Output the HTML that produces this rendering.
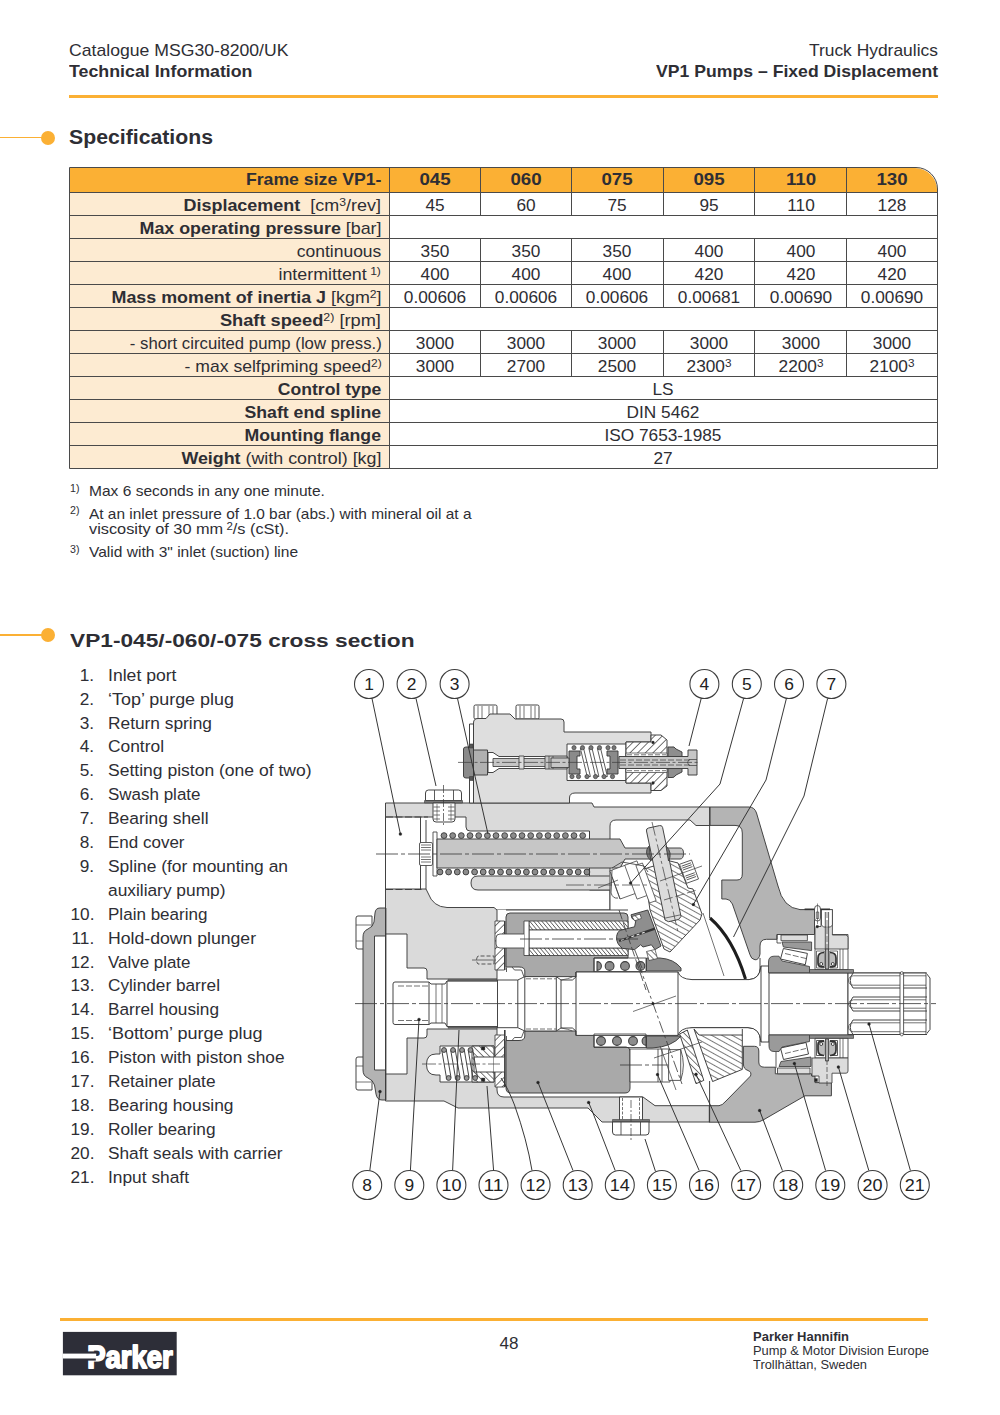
<!DOCTYPE html>
<html lang="en"><head><meta charset="utf-8"><title>VP1 Pumps – Fixed Displacement</title>
<style>
html,body{margin:0;padding:0;background:#fff;}
body{width:1000px;height:1415px;position:relative;overflow:hidden;font-family:"Liberation Sans",sans-serif;color:#2e2e34;}
.t{position:absolute;white-space:nowrap;}
.r{position:absolute;}
b{font-weight:bold;}
sup{font-size:68%;line-height:0;vertical-align:baseline;position:relative;top:-0.42em;}
sup.f{font-size:70%;top:-0.45em;}
svg{position:absolute;overflow:visible;}
</style></head><body>
<div class="t" id="t1" style="top:41.79px;font-size:16.2px;line-height:16.2px;left:69px;transform:scaleX(1.0890);transform-origin:0 0;"><span>Catalogue MSG30-8200/UK</span></div>
<div class="t" id="t2" style="top:62.79px;font-size:16.2px;line-height:16.2px;left:69px;font-weight:bold;transform:scaleX(1.0988);transform-origin:0 0;"><span>Technical Information</span></div>
<div class="t" id="t3" style="top:41.79px;font-size:16.2px;line-height:16.2px;right:62px;transform:scaleX(1.0756);transform-origin:100% 0;"><span>Truck Hydraulics</span></div>
<div class="t" id="t4" style="top:62.79px;font-size:16.2px;line-height:16.2px;right:61.5px;font-weight:bold;transform:scaleX(1.0883);transform-origin:100% 0;"><span>VP1 Pumps – Fixed Displacement</span></div>
<div class="r" style="left:69px;top:94.6px;width:869px;height:3.4px;background:#FBB034;"></div>
<div class="r" style="left:0px;top:136.6px;width:45px;height:1.7px;background:#FBB034;"></div>
<div class="r" style="left:40.7px;top:130.6px;width:14px;height:14px;border-radius:50%;background:#FBB034"></div>
<div class="t" id="t5" style="top:127.42px;font-size:20.3px;line-height:20.3px;left:69.2px;font-weight:bold;transform:scaleX(1.0472);transform-origin:0 0;"><span>Specifications</span></div>
<div class="r" style="left:69px;top:167.5px;width:867.9px;height:25px;background:#FBB034;border-top-right-radius:22px;"></div>
<div class="r" style="left:69px;top:192.5px;width:320.3px;height:276px;background:#FDEBD2;"></div>
<div class="r" style="left:68.5px;top:167.0px;width:867.4px;height:300px;border:1px solid #4a4a4a;border-top-right-radius:22px;box-sizing:content-box;"></div>
<div class="r" style="left:69px;top:192.0px;width:867.9px;height:1px;background:#4a4a4a;"></div>
<div class="r" style="left:69px;top:215.0px;width:867.9px;height:1px;background:#4a4a4a;"></div>
<div class="r" style="left:69px;top:238.0px;width:867.9px;height:1px;background:#4a4a4a;"></div>
<div class="r" style="left:69px;top:261.0px;width:867.9px;height:1px;background:#4a4a4a;"></div>
<div class="r" style="left:69px;top:284.0px;width:867.9px;height:1px;background:#4a4a4a;"></div>
<div class="r" style="left:69px;top:307.0px;width:867.9px;height:1px;background:#4a4a4a;"></div>
<div class="r" style="left:69px;top:330.0px;width:867.9px;height:1px;background:#4a4a4a;"></div>
<div class="r" style="left:69px;top:353.0px;width:867.9px;height:1px;background:#4a4a4a;"></div>
<div class="r" style="left:69px;top:376.0px;width:867.9px;height:1px;background:#4a4a4a;"></div>
<div class="r" style="left:69px;top:399.0px;width:867.9px;height:1px;background:#4a4a4a;"></div>
<div class="r" style="left:69px;top:422.0px;width:867.9px;height:1px;background:#4a4a4a;"></div>
<div class="r" style="left:69px;top:445.0px;width:867.9px;height:1px;background:#4a4a4a;"></div>
<div class="r" style="left:388.8px;top:167.5px;width:1px;height:301px;background:#4a4a4a;"></div>
<div class="r" style="left:480.0px;top:167.5px;width:1px;height:25.0px;background:#4a4a4a;"></div>
<div class="r" style="left:571.3px;top:167.5px;width:1px;height:25.0px;background:#4a4a4a;"></div>
<div class="r" style="left:662.6px;top:167.5px;width:1px;height:25.0px;background:#4a4a4a;"></div>
<div class="r" style="left:754.4px;top:167.5px;width:1px;height:25.0px;background:#4a4a4a;"></div>
<div class="r" style="left:846.0px;top:167.5px;width:1px;height:25.0px;background:#4a4a4a;"></div>
<div class="r" style="left:480.0px;top:192.5px;width:1px;height:23.0px;background:#4a4a4a;"></div>
<div class="r" style="left:571.3px;top:192.5px;width:1px;height:23.0px;background:#4a4a4a;"></div>
<div class="r" style="left:662.6px;top:192.5px;width:1px;height:23.0px;background:#4a4a4a;"></div>
<div class="r" style="left:754.4px;top:192.5px;width:1px;height:23.0px;background:#4a4a4a;"></div>
<div class="r" style="left:846.0px;top:192.5px;width:1px;height:23.0px;background:#4a4a4a;"></div>
<div class="r" style="left:480.0px;top:238.5px;width:1px;height:23.0px;background:#4a4a4a;"></div>
<div class="r" style="left:571.3px;top:238.5px;width:1px;height:23.0px;background:#4a4a4a;"></div>
<div class="r" style="left:662.6px;top:238.5px;width:1px;height:23.0px;background:#4a4a4a;"></div>
<div class="r" style="left:754.4px;top:238.5px;width:1px;height:23.0px;background:#4a4a4a;"></div>
<div class="r" style="left:846.0px;top:238.5px;width:1px;height:23.0px;background:#4a4a4a;"></div>
<div class="r" style="left:480.0px;top:261.5px;width:1px;height:23.0px;background:#4a4a4a;"></div>
<div class="r" style="left:571.3px;top:261.5px;width:1px;height:23.0px;background:#4a4a4a;"></div>
<div class="r" style="left:662.6px;top:261.5px;width:1px;height:23.0px;background:#4a4a4a;"></div>
<div class="r" style="left:754.4px;top:261.5px;width:1px;height:23.0px;background:#4a4a4a;"></div>
<div class="r" style="left:846.0px;top:261.5px;width:1px;height:23.0px;background:#4a4a4a;"></div>
<div class="r" style="left:480.0px;top:284.5px;width:1px;height:23.0px;background:#4a4a4a;"></div>
<div class="r" style="left:571.3px;top:284.5px;width:1px;height:23.0px;background:#4a4a4a;"></div>
<div class="r" style="left:662.6px;top:284.5px;width:1px;height:23.0px;background:#4a4a4a;"></div>
<div class="r" style="left:754.4px;top:284.5px;width:1px;height:23.0px;background:#4a4a4a;"></div>
<div class="r" style="left:846.0px;top:284.5px;width:1px;height:23.0px;background:#4a4a4a;"></div>
<div class="r" style="left:480.0px;top:330.5px;width:1px;height:23.0px;background:#4a4a4a;"></div>
<div class="r" style="left:571.3px;top:330.5px;width:1px;height:23.0px;background:#4a4a4a;"></div>
<div class="r" style="left:662.6px;top:330.5px;width:1px;height:23.0px;background:#4a4a4a;"></div>
<div class="r" style="left:754.4px;top:330.5px;width:1px;height:23.0px;background:#4a4a4a;"></div>
<div class="r" style="left:846.0px;top:330.5px;width:1px;height:23.0px;background:#4a4a4a;"></div>
<div class="r" style="left:480.0px;top:353.5px;width:1px;height:23.0px;background:#4a4a4a;"></div>
<div class="r" style="left:571.3px;top:353.5px;width:1px;height:23.0px;background:#4a4a4a;"></div>
<div class="r" style="left:662.6px;top:353.5px;width:1px;height:23.0px;background:#4a4a4a;"></div>
<div class="r" style="left:754.4px;top:353.5px;width:1px;height:23.0px;background:#4a4a4a;"></div>
<div class="r" style="left:846.0px;top:353.5px;width:1px;height:23.0px;background:#4a4a4a;"></div>
<div class="t" id="t6" style="top:171.21px;font-size:17px;line-height:17px;right:618.7px;transform:scaleX(1.0391);transform-origin:100% 0;"><span><b>Frame size VP1-</b></span></div>
<div class="t" id="t7" style="top:171.21px;font-size:17px;line-height:17px;left:234.89999999999998px;width:400px;text-align:center;font-weight:bold;transform:scaleX(1.1000);transform-origin:50% 0;"><span>045</span></div>
<div class="t" id="t8" style="top:171.21px;font-size:17px;line-height:17px;left:326.15px;width:400px;text-align:center;font-weight:bold;transform:scaleX(1.1000);transform-origin:50% 0;"><span>060</span></div>
<div class="t" id="t9" style="top:171.21px;font-size:17px;line-height:17px;left:417.45000000000005px;width:400px;text-align:center;font-weight:bold;transform:scaleX(1.1000);transform-origin:50% 0;"><span>075</span></div>
<div class="t" id="t10" style="top:171.21px;font-size:17px;line-height:17px;left:509.0px;width:400px;text-align:center;font-weight:bold;transform:scaleX(1.1000);transform-origin:50% 0;"><span>095</span></div>
<div class="t" id="t11" style="top:171.21px;font-size:17px;line-height:17px;left:600.7px;width:400px;text-align:center;font-weight:bold;transform:scaleX(1.1000);transform-origin:50% 0;"><span>110</span></div>
<div class="t" id="t12" style="top:171.21px;font-size:17px;line-height:17px;left:691.7px;width:400px;text-align:center;font-weight:bold;transform:scaleX(1.1000);transform-origin:50% 0;"><span>130</span></div>
<div class="t" id="t13" style="top:196.59px;font-size:16.2px;line-height:16.2px;right:618.7px;transform:scaleX(1.1098);transform-origin:100% 0;"><span><b>Displacement</b>&nbsp; [cm<sup>3</sup>/rev]</span></div>
<div class="t" id="t14" style="top:196.59px;font-size:16.2px;line-height:16.2px;left:234.89999999999998px;width:400px;text-align:center;transform:scaleX(1.0650);transform-origin:50% 0;"><span>45</span></div>
<div class="t" id="t15" style="top:196.59px;font-size:16.2px;line-height:16.2px;left:326.15px;width:400px;text-align:center;transform:scaleX(1.0650);transform-origin:50% 0;"><span>60</span></div>
<div class="t" id="t16" style="top:196.59px;font-size:16.2px;line-height:16.2px;left:417.45000000000005px;width:400px;text-align:center;transform:scaleX(1.0650);transform-origin:50% 0;"><span>75</span></div>
<div class="t" id="t17" style="top:196.59px;font-size:16.2px;line-height:16.2px;left:509.0px;width:400px;text-align:center;transform:scaleX(1.0650);transform-origin:50% 0;"><span>95</span></div>
<div class="t" id="t18" style="top:196.59px;font-size:16.2px;line-height:16.2px;left:600.7px;width:400px;text-align:center;transform:scaleX(1.0650);transform-origin:50% 0;"><span>110</span></div>
<div class="t" id="t19" style="top:196.59px;font-size:16.2px;line-height:16.2px;left:691.7px;width:400px;text-align:center;transform:scaleX(1.0650);transform-origin:50% 0;"><span>128</span></div>
<div class="t" id="t20" style="top:219.59px;font-size:16.2px;line-height:16.2px;right:618.7px;transform:scaleX(1.1024);transform-origin:100% 0;"><span><b>Max operating pressure</b> [bar]</span></div>
<div class="t" id="t21" style="top:242.59px;font-size:16.2px;line-height:16.2px;right:618.7px;transform:scaleX(1.0790);transform-origin:100% 0;"><span>continuous</span></div>
<div class="t" id="t22" style="top:242.59px;font-size:16.2px;line-height:16.2px;left:234.89999999999998px;width:400px;text-align:center;transform:scaleX(1.0650);transform-origin:50% 0;"><span>350</span></div>
<div class="t" id="t23" style="top:242.59px;font-size:16.2px;line-height:16.2px;left:326.15px;width:400px;text-align:center;transform:scaleX(1.0650);transform-origin:50% 0;"><span>350</span></div>
<div class="t" id="t24" style="top:242.59px;font-size:16.2px;line-height:16.2px;left:417.45000000000005px;width:400px;text-align:center;transform:scaleX(1.0650);transform-origin:50% 0;"><span>350</span></div>
<div class="t" id="t25" style="top:242.59px;font-size:16.2px;line-height:16.2px;left:509.0px;width:400px;text-align:center;transform:scaleX(1.0650);transform-origin:50% 0;"><span>400</span></div>
<div class="t" id="t26" style="top:242.59px;font-size:16.2px;line-height:16.2px;left:600.7px;width:400px;text-align:center;transform:scaleX(1.0650);transform-origin:50% 0;"><span>400</span></div>
<div class="t" id="t27" style="top:242.59px;font-size:16.2px;line-height:16.2px;left:691.7px;width:400px;text-align:center;transform:scaleX(1.0650);transform-origin:50% 0;"><span>400</span></div>
<div class="t" id="t28" style="top:265.59px;font-size:16.2px;line-height:16.2px;right:618.7px;transform:scaleX(1.1031);transform-origin:100% 0;"><span>intermittent<sup class="s2"> 1)</sup></span></div>
<div class="t" id="t29" style="top:265.59px;font-size:16.2px;line-height:16.2px;left:234.89999999999998px;width:400px;text-align:center;transform:scaleX(1.0650);transform-origin:50% 0;"><span>400</span></div>
<div class="t" id="t30" style="top:265.59px;font-size:16.2px;line-height:16.2px;left:326.15px;width:400px;text-align:center;transform:scaleX(1.0650);transform-origin:50% 0;"><span>400</span></div>
<div class="t" id="t31" style="top:265.59px;font-size:16.2px;line-height:16.2px;left:417.45000000000005px;width:400px;text-align:center;transform:scaleX(1.0650);transform-origin:50% 0;"><span>400</span></div>
<div class="t" id="t32" style="top:265.59px;font-size:16.2px;line-height:16.2px;left:509.0px;width:400px;text-align:center;transform:scaleX(1.0650);transform-origin:50% 0;"><span>420</span></div>
<div class="t" id="t33" style="top:265.59px;font-size:16.2px;line-height:16.2px;left:600.7px;width:400px;text-align:center;transform:scaleX(1.0650);transform-origin:50% 0;"><span>420</span></div>
<div class="t" id="t34" style="top:265.59px;font-size:16.2px;line-height:16.2px;left:691.7px;width:400px;text-align:center;transform:scaleX(1.0650);transform-origin:50% 0;"><span>420</span></div>
<div class="t" id="t35" style="top:288.59px;font-size:16.2px;line-height:16.2px;right:618.7px;transform:scaleX(1.1042);transform-origin:100% 0;"><span><b>Mass moment of inertia J</b> [kgm<sup>2</sup>]</span></div>
<div class="t" id="t36" style="top:288.59px;font-size:16.2px;line-height:16.2px;left:234.89999999999998px;width:400px;text-align:center;transform:scaleX(1.0650);transform-origin:50% 0;"><span>0.00606</span></div>
<div class="t" id="t37" style="top:288.59px;font-size:16.2px;line-height:16.2px;left:326.15px;width:400px;text-align:center;transform:scaleX(1.0650);transform-origin:50% 0;"><span>0.00606</span></div>
<div class="t" id="t38" style="top:288.59px;font-size:16.2px;line-height:16.2px;left:417.45000000000005px;width:400px;text-align:center;transform:scaleX(1.0650);transform-origin:50% 0;"><span>0.00606</span></div>
<div class="t" id="t39" style="top:288.59px;font-size:16.2px;line-height:16.2px;left:509.0px;width:400px;text-align:center;transform:scaleX(1.0650);transform-origin:50% 0;"><span>0.00681</span></div>
<div class="t" id="t40" style="top:288.59px;font-size:16.2px;line-height:16.2px;left:600.7px;width:400px;text-align:center;transform:scaleX(1.0650);transform-origin:50% 0;"><span>0.00690</span></div>
<div class="t" id="t41" style="top:288.59px;font-size:16.2px;line-height:16.2px;left:691.7px;width:400px;text-align:center;transform:scaleX(1.0650);transform-origin:50% 0;"><span>0.00690</span></div>
<div class="t" id="t42" style="top:311.59px;font-size:16.2px;line-height:16.2px;right:618.7px;transform:scaleX(1.1265);transform-origin:100% 0;"><span><b>Shaft speed</b><sup>2)</sup> [rpm]</span></div>
<div class="t" id="t43" style="top:334.59px;font-size:16.2px;line-height:16.2px;right:618.7px;transform:scaleX(1.0336);transform-origin:100% 0;"><span>- short circuited pump (low press.)</span></div>
<div class="t" id="t44" style="top:334.59px;font-size:16.2px;line-height:16.2px;left:234.89999999999998px;width:400px;text-align:center;transform:scaleX(1.0650);transform-origin:50% 0;"><span>3000</span></div>
<div class="t" id="t45" style="top:334.59px;font-size:16.2px;line-height:16.2px;left:326.15px;width:400px;text-align:center;transform:scaleX(1.0650);transform-origin:50% 0;"><span>3000</span></div>
<div class="t" id="t46" style="top:334.59px;font-size:16.2px;line-height:16.2px;left:417.45000000000005px;width:400px;text-align:center;transform:scaleX(1.0650);transform-origin:50% 0;"><span>3000</span></div>
<div class="t" id="t47" style="top:334.59px;font-size:16.2px;line-height:16.2px;left:509.0px;width:400px;text-align:center;transform:scaleX(1.0650);transform-origin:50% 0;"><span>3000</span></div>
<div class="t" id="t48" style="top:334.59px;font-size:16.2px;line-height:16.2px;left:600.7px;width:400px;text-align:center;transform:scaleX(1.0650);transform-origin:50% 0;"><span>3000</span></div>
<div class="t" id="t49" style="top:334.59px;font-size:16.2px;line-height:16.2px;left:691.7px;width:400px;text-align:center;transform:scaleX(1.0650);transform-origin:50% 0;"><span>3000</span></div>
<div class="t" id="t50" style="top:357.59px;font-size:16.2px;line-height:16.2px;right:618.7px;transform:scaleX(1.0847);transform-origin:100% 0;"><span>- max selfpriming speed<sup>2)</sup></span></div>
<div class="t" id="t51" style="top:357.59px;font-size:16.2px;line-height:16.2px;left:234.89999999999998px;width:400px;text-align:center;transform:scaleX(1.0650);transform-origin:50% 0;"><span>3000</span></div>
<div class="t" id="t52" style="top:357.59px;font-size:16.2px;line-height:16.2px;left:326.15px;width:400px;text-align:center;transform:scaleX(1.0650);transform-origin:50% 0;"><span>2700</span></div>
<div class="t" id="t53" style="top:357.59px;font-size:16.2px;line-height:16.2px;left:417.45000000000005px;width:400px;text-align:center;transform:scaleX(1.0650);transform-origin:50% 0;"><span>2500</span></div>
<div class="t" id="t54" style="top:357.59px;font-size:16.2px;line-height:16.2px;left:509.0px;width:400px;text-align:center;transform:scaleX(1.0650);transform-origin:50% 0;"><span>2300<sup>3</sup></span></div>
<div class="t" id="t55" style="top:357.59px;font-size:16.2px;line-height:16.2px;left:600.7px;width:400px;text-align:center;transform:scaleX(1.0650);transform-origin:50% 0;"><span>2200<sup>3</sup></span></div>
<div class="t" id="t56" style="top:357.59px;font-size:16.2px;line-height:16.2px;left:691.7px;width:400px;text-align:center;transform:scaleX(1.0650);transform-origin:50% 0;"><span>2100<sup>3</sup></span></div>
<div class="t" id="t57" style="top:380.59px;font-size:16.2px;line-height:16.2px;right:618.7px;transform:scaleX(1.0857);transform-origin:100% 0;"><span><b>Control type</b></span></div>
<div class="t" id="t58" style="top:380.59px;font-size:16.2px;line-height:16.2px;left:463.1px;width:400px;text-align:center;transform:scaleX(1.0650);transform-origin:50% 0;"><span>LS</span></div>
<div class="t" id="t59" style="top:403.59px;font-size:16.2px;line-height:16.2px;right:618.7px;transform:scaleX(1.0917);transform-origin:100% 0;"><span><b>Shaft end spline</b></span></div>
<div class="t" id="t60" style="top:403.59px;font-size:16.2px;line-height:16.2px;left:463.1px;width:400px;text-align:center;transform:scaleX(1.0650);transform-origin:50% 0;"><span>DIN 5462</span></div>
<div class="t" id="t61" style="top:426.59px;font-size:16.2px;line-height:16.2px;right:618.7px;transform:scaleX(1.0921);transform-origin:100% 0;"><span><b>Mounting flange</b></span></div>
<div class="t" id="t62" style="top:426.59px;font-size:16.2px;line-height:16.2px;left:463.1px;width:400px;text-align:center;transform:scaleX(1.0650);transform-origin:50% 0;"><span>ISO 7653-1985</span></div>
<div class="t" id="t63" style="top:449.59px;font-size:16.2px;line-height:16.2px;right:618.7px;transform:scaleX(1.1025);transform-origin:100% 0;"><span><b>Weight</b> (with control) [kg]</span></div>
<div class="t" id="t64" style="top:449.59px;font-size:16.2px;line-height:16.2px;left:463.1px;width:400px;text-align:center;transform:scaleX(1.0650);transform-origin:50% 0;"><span>27</span></div>
<div class="t" id="t65" style="top:483.54px;font-size:10px;line-height:10px;left:70px;transform:scaleX(1.0650);transform-origin:0 0;"><span>1)</span></div>
<div class="t" id="t66" style="top:484.14px;font-size:14.6px;line-height:14.6px;left:89px;transform:scaleX(1.0650);transform-origin:0 0;"><span>Max 6 seconds in any one minute.</span></div>
<div class="t" id="t67" style="top:506.04px;font-size:10px;line-height:10px;left:70px;transform:scaleX(1.0650);transform-origin:0 0;"><span>2)</span></div>
<div class="t" id="t68" style="top:506.64px;font-size:14.6px;line-height:14.6px;left:89px;transform:scaleX(1.0573);transform-origin:0 0;"><span>At an inlet pressure of 1.0 bar (abs.) with mineral oil at a</span></div>
<div class="t" id="t69" style="top:522.14px;font-size:14.6px;line-height:14.6px;left:89px;transform:scaleX(1.1183);transform-origin:0 0;"><span>viscosity of 30 mm<sup class="f"> 2</sup>/s (cSt).</span></div>
<div class="t" id="t70" style="top:544.53px;font-size:10px;line-height:10px;left:70px;transform:scaleX(1.0650);transform-origin:0 0;"><span>3)</span></div>
<div class="t" id="t71" style="top:545.14px;font-size:14.6px;line-height:14.6px;left:89px;transform:scaleX(1.0650);transform-origin:0 0;"><span>Valid with 3" inlet (suction) line</span></div>
<div class="r" style="left:0px;top:634.3px;width:45px;height:1.7px;background:#FBB034;"></div>
<div class="r" style="left:40.7px;top:628.2px;width:14px;height:14px;border-radius:50%;background:#FBB034"></div>
<div class="t" id="t72" style="top:633.23px;font-size:17.8px;line-height:17.8px;left:69.5px;font-weight:bold;transform:scaleX(1.2767);transform-origin:0 0;"><span>VP1-045/-060/-075 cross section</span></div>
<div class="t" id="t73" style="top:667.79px;font-size:16.9px;line-height:16.9px;right:905.8px;transform:scaleX(1.0200);transform-origin:100% 0;"><span>1.</span></div>
<div class="t" id="t74" style="top:667.79px;font-size:16.9px;line-height:16.9px;left:108.3px;transform:scaleX(1.0421);transform-origin:0 0;"><span>Inlet port</span></div>
<div class="t" id="t75" style="top:691.69px;font-size:16.9px;line-height:16.9px;right:905.8px;transform:scaleX(1.0200);transform-origin:100% 0;"><span>2.</span></div>
<div class="t" id="t76" style="top:691.69px;font-size:16.9px;line-height:16.9px;left:108.3px;transform:scaleX(1.0620);transform-origin:0 0;"><span>‘Top’ purge plug</span></div>
<div class="t" id="t77" style="top:715.59px;font-size:16.9px;line-height:16.9px;right:905.8px;transform:scaleX(1.0200);transform-origin:100% 0;"><span>3.</span></div>
<div class="t" id="t78" style="top:715.59px;font-size:16.9px;line-height:16.9px;left:108.3px;transform:scaleX(1.0256);transform-origin:0 0;"><span>Return spring</span></div>
<div class="t" id="t79" style="top:739.49px;font-size:16.9px;line-height:16.9px;right:905.8px;transform:scaleX(1.0200);transform-origin:100% 0;"><span>4.</span></div>
<div class="t" id="t80" style="top:739.49px;font-size:16.9px;line-height:16.9px;left:108.3px;transform:scaleX(1.0284);transform-origin:0 0;"><span>Control</span></div>
<div class="t" id="t81" style="top:763.39px;font-size:16.9px;line-height:16.9px;right:905.8px;transform:scaleX(1.0200);transform-origin:100% 0;"><span>5.</span></div>
<div class="t" id="t82" style="top:763.39px;font-size:16.9px;line-height:16.9px;left:108.3px;transform:scaleX(1.0370);transform-origin:0 0;"><span>Setting piston (one of two)</span></div>
<div class="t" id="t83" style="top:787.29px;font-size:16.9px;line-height:16.9px;right:905.8px;transform:scaleX(1.0200);transform-origin:100% 0;"><span>6.</span></div>
<div class="t" id="t84" style="top:787.29px;font-size:16.9px;line-height:16.9px;left:108.3px;transform:scaleX(1.0051);transform-origin:0 0;"><span>Swash plate</span></div>
<div class="t" id="t85" style="top:811.19px;font-size:16.9px;line-height:16.9px;right:905.8px;transform:scaleX(1.0200);transform-origin:100% 0;"><span>7.</span></div>
<div class="t" id="t86" style="top:811.19px;font-size:16.9px;line-height:16.9px;left:108.3px;transform:scaleX(1.0291);transform-origin:0 0;"><span>Bearing shell</span></div>
<div class="t" id="t87" style="top:835.09px;font-size:16.9px;line-height:16.9px;right:905.8px;transform:scaleX(1.0200);transform-origin:100% 0;"><span>8.</span></div>
<div class="t" id="t88" style="top:835.09px;font-size:16.9px;line-height:16.9px;left:108.3px;transform:scaleX(1.0058);transform-origin:0 0;"><span>End cover</span></div>
<div class="t" id="t89" style="top:858.99px;font-size:16.9px;line-height:16.9px;right:905.8px;transform:scaleX(1.0200);transform-origin:100% 0;"><span>9.</span></div>
<div class="t" id="t90" style="top:858.99px;font-size:16.9px;line-height:16.9px;left:108.3px;transform:scaleX(1.0307);transform-origin:0 0;"><span>Spline (for mounting an</span></div>
<div class="t" id="t91" style="top:882.89px;font-size:16.9px;line-height:16.9px;left:108.3px;transform:scaleX(1.0259);transform-origin:0 0;"><span>auxiliary pump)</span></div>
<div class="t" id="t92" style="top:906.79px;font-size:16.9px;line-height:16.9px;right:905.8px;transform:scaleX(1.0200);transform-origin:100% 0;"><span>10.</span></div>
<div class="t" id="t93" style="top:906.79px;font-size:16.9px;line-height:16.9px;left:108.3px;transform:scaleX(1.0090);transform-origin:0 0;"><span>Plain bearing</span></div>
<div class="t" id="t94" style="top:930.69px;font-size:16.9px;line-height:16.9px;right:905.8px;transform:scaleX(1.0200);transform-origin:100% 0;"><span>11.</span></div>
<div class="t" id="t95" style="top:930.69px;font-size:16.9px;line-height:16.9px;left:108.3px;transform:scaleX(1.0439);transform-origin:0 0;"><span>Hold-down plunger</span></div>
<div class="t" id="t96" style="top:954.59px;font-size:16.9px;line-height:16.9px;right:905.8px;transform:scaleX(1.0200);transform-origin:100% 0;"><span>12.</span></div>
<div class="t" id="t97" style="top:954.59px;font-size:16.9px;line-height:16.9px;left:108.3px;transform:scaleX(1.0021);transform-origin:0 0;"><span>Valve plate</span></div>
<div class="t" id="t98" style="top:978.49px;font-size:16.9px;line-height:16.9px;right:905.8px;transform:scaleX(1.0200);transform-origin:100% 0;"><span>13.</span></div>
<div class="t" id="t99" style="top:978.49px;font-size:16.9px;line-height:16.9px;left:108.3px;transform:scaleX(1.0196);transform-origin:0 0;"><span>Cylinder barrel</span></div>
<div class="t" id="t100" style="top:1002.39px;font-size:16.9px;line-height:16.9px;right:905.8px;transform:scaleX(1.0200);transform-origin:100% 0;"><span>14.</span></div>
<div class="t" id="t101" style="top:1002.39px;font-size:16.9px;line-height:16.9px;left:108.3px;transform:scaleX(1.0191);transform-origin:0 0;"><span>Barrel housing</span></div>
<div class="t" id="t102" style="top:1026.29px;font-size:16.9px;line-height:16.9px;right:905.8px;transform:scaleX(1.0200);transform-origin:100% 0;"><span>15.</span></div>
<div class="t" id="t103" style="top:1026.29px;font-size:16.9px;line-height:16.9px;left:108.3px;transform:scaleX(1.0662);transform-origin:0 0;"><span>‘Bottom’ purge plug</span></div>
<div class="t" id="t104" style="top:1050.19px;font-size:16.9px;line-height:16.9px;right:905.8px;transform:scaleX(1.0200);transform-origin:100% 0;"><span>16.</span></div>
<div class="t" id="t105" style="top:1050.19px;font-size:16.9px;line-height:16.9px;left:108.3px;transform:scaleX(1.0216);transform-origin:0 0;"><span>Piston with piston shoe</span></div>
<div class="t" id="t106" style="top:1074.09px;font-size:16.9px;line-height:16.9px;right:905.8px;transform:scaleX(1.0200);transform-origin:100% 0;"><span>17.</span></div>
<div class="t" id="t107" style="top:1074.09px;font-size:16.9px;line-height:16.9px;left:108.3px;transform:scaleX(1.0221);transform-origin:0 0;"><span>Retainer plate</span></div>
<div class="t" id="t108" style="top:1097.99px;font-size:16.9px;line-height:16.9px;right:905.8px;transform:scaleX(1.0200);transform-origin:100% 0;"><span>18.</span></div>
<div class="t" id="t109" style="top:1097.99px;font-size:16.9px;line-height:16.9px;left:108.3px;transform:scaleX(1.0280);transform-origin:0 0;"><span>Bearing housing</span></div>
<div class="t" id="t110" style="top:1121.89px;font-size:16.9px;line-height:16.9px;right:905.8px;transform:scaleX(1.0200);transform-origin:100% 0;"><span>19.</span></div>
<div class="t" id="t111" style="top:1121.89px;font-size:16.9px;line-height:16.9px;left:108.3px;transform:scaleX(1.0223);transform-origin:0 0;"><span>Roller bearing</span></div>
<div class="t" id="t112" style="top:1145.79px;font-size:16.9px;line-height:16.9px;right:905.8px;transform:scaleX(1.0200);transform-origin:100% 0;"><span>20.</span></div>
<div class="t" id="t113" style="top:1145.79px;font-size:16.9px;line-height:16.9px;left:108.3px;transform:scaleX(1.0213);transform-origin:0 0;"><span>Shaft seals with carrier</span></div>
<div class="t" id="t114" style="top:1169.69px;font-size:16.9px;line-height:16.9px;right:905.8px;transform:scaleX(1.0200);transform-origin:100% 0;"><span>21.</span></div>
<div class="t" id="t115" style="top:1169.69px;font-size:16.9px;line-height:16.9px;left:108.3px;transform:scaleX(1.0267);transform-origin:0 0;"><span>Input shaft</span></div>
<div class="r" style="left:60px;top:1317.8px;width:868px;height:3.5px;background:#FBB034;"></div>
<div class="t" id="t116" style="top:1336.36px;font-size:16px;line-height:16px;left:309px;width:400px;text-align:center;transform:scaleX(1.0650);transform-origin:50% 0;"><span>48</span></div>
<div class="t" id="t117" style="top:1329.91px;font-size:13.1px;line-height:13.1px;left:753px;font-weight:bold;transform:scaleX(0.9919);transform-origin:0 0;"><span>Parker Hannifin</span></div>
<div class="t" id="t118" style="top:1344.21px;font-size:13.1px;line-height:13.1px;left:753px;transform:scaleX(0.9831);transform-origin:0 0;"><span>Pump &amp; Motor Division Europe</span></div>
<div class="t" id="t119" style="top:1358.31px;font-size:13.1px;line-height:13.1px;left:753px;transform:scaleX(0.9829);transform-origin:0 0;"><span>Trollhättan, Sweden</span></div>
<svg width="1000" height="1415" viewBox="0 0 1000 1415" style="left:0;top:0">
<rect x="62.9" y="1331.9" width="113.8" height="43.4" fill="#2d2e38"/>
<text x="87.2" y="1367.6" font-family="Liberation Sans, sans-serif" font-weight="bold" font-size="31.2" fill="#fff" stroke="#fff" stroke-width="1.9" stroke-linejoin="round" textLength="85.6" lengthAdjust="spacingAndGlyphs">Parker</text>
<rect x="85" y="1351.4" width="10.8" height="9.2" fill="#2d2e38"/>
<rect x="62.9" y="1353.6" width="33.3" height="4.9" fill="#fff"/>
</svg>

<svg width="1000" height="1415" viewBox="0 0 1000 1415" style="left:0;top:0" font-family="Liberation Sans, sans-serif">
<defs>
<pattern id="h1" width="5.4" height="5.4" patternUnits="userSpaceOnUse" patternTransform="rotate(-45)"><rect width="5.4" height="5.4" fill="#fff"/><line x1="0" y1="0" x2="5.4" y2="0" stroke="#333" stroke-width="1.35"/></pattern>
<pattern id="h2" width="3.1" height="3.1" patternUnits="userSpaceOnUse" patternTransform="rotate(50)"><rect width="3.1" height="3.1" fill="#fff"/><line x1="0" y1="0" x2="3.1" y2="0" stroke="#333" stroke-width="1.25"/></pattern>
<pattern id="h3" width="5" height="5" patternUnits="userSpaceOnUse" patternTransform="rotate(29)"><rect width="5" height="5" fill="#fff"/><line x1="0" y1="0" x2="5" y2="0" stroke="#333" stroke-width="1.3"/></pattern>
<pattern id="h4" width="4.4" height="4.4" patternUnits="userSpaceOnUse" patternTransform="rotate(45)"><rect width="4.4" height="4.4" fill="#fff"/><line x1="0" y1="0" x2="4.4" y2="0" stroke="#333" stroke-width="1.25"/></pattern>
</defs>
<g stroke-linejoin="round" stroke-linecap="butt">
<path d="M385.5,803 H592 L594,807 H710 V1122 H602 L588,1108 H458 L444,1101 H385.5 Z" fill="#dadada" stroke="none" stroke-width="0.96" />
<path d="M710,1122 H602 L588,1108 H458 L444,1101 H385.5 V803 H592 L594,807 H710" fill="none" stroke="#3d3d3d" stroke-width="0.96" />
<path d="M385.5,817 H466 V827 Q466,831 470,831 H589.5 V890 H610 V910 H497 L494,907.5 H447 Q433,907 428,893 L426,889 H385.5 Z" fill="#fff" stroke="#3d3d3d" stroke-width="0.96" />
<path d="M609.5,876 H478 Q471,876 471,883 Q471,890 478,890 H609.5" fill="#dadada" stroke="#3d3d3d" stroke-width="0.96" />
<path d="M616,820 H690 L696,825.5 H710 V1105.7 H655 L643,1097 H504 Q497,1097 497,1090 V910 H610 V826 Q610,820 616,820 Z" fill="#fff" stroke="none" stroke-width="0.96" />
<path d="M710,825.5 H696 L690,820 H616 Q610,820 610,826 V910" fill="none" stroke="#3d3d3d" stroke-width="0.96" />
<path d="M710,1105.7 H655 L643,1097 H504 Q497,1097 497,1090 V1029" fill="none" stroke="#3d3d3d" stroke-width="0.96" />
<line x1="497" y1="910" x2="497" y2="979" stroke="#3d3d3d" stroke-width="0.96" />
<path d="M385.5,934 H407 V968 H424 Q427,968 427,971 V979 H497 V1029 H427 V1035 Q427,1038 424,1038 H407 V1074 H385.5 Z" fill="#fff" stroke="#3d3d3d" stroke-width="0.96" />
<line x1="420.5" y1="817" x2="420.5" y2="889" stroke="#3d3d3d" stroke-width="0.96" />
<line x1="426" y1="820" x2="426" y2="889" stroke="#3d3d3d" stroke-width="0.96" />
<line x1="386" y1="817" x2="428" y2="817" stroke="#3d3d3d" stroke-width="0.96" stroke-dasharray="7 2.5"/>
<line x1="386" y1="889.5" x2="424" y2="889.5" stroke="#3d3d3d" stroke-width="0.96" stroke-dasharray="7 2.5"/>
<rect x="474" y="705" width="23" height="14" rx="1.5" fill="#fff" stroke="#3d3d3d" stroke-width="0.96" />
<rect x="516" y="705" width="23" height="14" rx="1.5" fill="#fff" stroke="#3d3d3d" stroke-width="0.96" />
<line x1="478" y1="706" x2="478" y2="718" stroke="#3d3d3d" stroke-width="0.72" />
<line x1="482" y1="706" x2="482" y2="718" stroke="#3d3d3d" stroke-width="0.72" />
<line x1="489" y1="706" x2="489" y2="718" stroke="#3d3d3d" stroke-width="0.72" />
<line x1="493" y1="706" x2="493" y2="718" stroke="#3d3d3d" stroke-width="0.72" />
<line x1="520" y1="706" x2="520" y2="718" stroke="#3d3d3d" stroke-width="0.72" />
<line x1="524" y1="706" x2="524" y2="718" stroke="#3d3d3d" stroke-width="0.72" />
<line x1="531" y1="706" x2="531" y2="718" stroke="#3d3d3d" stroke-width="0.72" />
<line x1="535" y1="706" x2="535" y2="718" stroke="#3d3d3d" stroke-width="0.72" />
<rect x="469.5" y="724" width="4" height="79" rx="0" fill="#fff" stroke="#3d3d3d" stroke-width="0.96" />
<path d="M473.5,803 V723 Q473.5,718.5 478,718.5 H486 L490,714 H510 L515,719 H561 Q564,719 564,722 V732 H651 V742 H626 V783 H651 V793 H575 Q569.5,793 569.5,798 V803 Z" fill="#dedede" stroke="#3d3d3d" stroke-width="0.96" />
<rect x="567" y="744" width="59" height="36.5" rx="0" fill="#fff" stroke="#3d3d3d" stroke-width="0.96" />
<path d="M499,756.5 H567 V768.5 H499 L493,772.5 H488 V752.5 H493 Z" fill="#fff" stroke="#3d3d3d" stroke-width="0.96" />
<rect x="493" y="758.5" width="60" height="8" rx="0" fill="#c6c6c6" stroke="#3d3d3d" stroke-width="0.84" />
<rect x="519" y="756" width="5" height="13" rx="0" fill="#dedede" stroke="#3d3d3d" stroke-width="0.84" />
<rect x="545" y="756" width="22" height="13" rx="0" fill="#c6c6c6" stroke="#3d3d3d" stroke-width="0.84" />
<line x1="549" y1="756" x2="549" y2="769" stroke="#3d3d3d" stroke-width="0.72" />
<line x1="553" y1="756" x2="553" y2="769" stroke="#3d3d3d" stroke-width="0.72" />
<path d="M473,750 H487.5 V775 H473 Z" fill="#b0b0b0" stroke="#3d3d3d" stroke-width="0.96" />
<path d="M463.5,749 Q463.5,747 466,747 H473.5 V778 H466 Q463.5,778 463.5,776 Z" fill="#8a8a8a" stroke="#3d3d3d" stroke-width="0.96" />
<rect x="469.5" y="744" width="3.5" height="4" rx="0" fill="#555" stroke="#3d3d3d" stroke-width="0.6" />
<rect x="469.5" y="776.5" width="3.5" height="4" rx="0" fill="#555" stroke="#3d3d3d" stroke-width="0.6" />
<path d="M626,742 H651 V735 H661 L667,740 V786 L661,790.5 H651 V783 H626 Z" fill="url(#h1)" stroke="#3d3d3d" stroke-width="0.96" />
<path d="M668,747 H672 Q674,746 676,749 L682,752 V772 L676,775 Q674,778 672,777.5 H668 Z" fill="#8e8e8e" stroke="#3d3d3d" stroke-width="0.96" />
<rect x="626" y="753" width="41" height="19.5" rx="0" fill="#fff" stroke="#3d3d3d" stroke-width="0.72" />
<line x1="627" y1="754.8" x2="666" y2="754.8" stroke="#3d3d3d" stroke-width="0.72" stroke-dasharray="5 2"/>
<line x1="627" y1="770.7" x2="666" y2="770.7" stroke="#3d3d3d" stroke-width="0.72" stroke-dasharray="5 2"/>
<path d="M619,756.5 H688 V750 H697 V775 H688 V768.5 H619 Z" fill="#c6c6c6" stroke="#3d3d3d" stroke-width="0.96" />
<line x1="620" y1="760" x2="690" y2="760" stroke="#3d3d3d" stroke-width="0.72" stroke-dasharray="6 2"/>
<line x1="620" y1="765" x2="690" y2="765" stroke="#3d3d3d" stroke-width="0.72" stroke-dasharray="6 2"/>
<path d="M697,759.5 H689 Q686,762.5 689,765.5 H697" fill="none" stroke="#3d3d3d" stroke-width="0.72" />
<path d="M569,751 H580 V756 H577 V769 H580 V774 H569 Z" fill="#8a8a8a" stroke="#3d3d3d" stroke-width="0.96" />
<path d="M607,751 H618 V774 H607 V769 H610 V756 H607 Z" fill="#8a8a8a" stroke="#3d3d3d" stroke-width="0.96" />
<rect x="551" y="758" width="18" height="9.5" rx="0" fill="#c6c6c6" stroke="#3d3d3d" stroke-width="0.84" />
<path d="M580.4,748.5 L587.2,776.5 L590.4,776.5 L583.6,748.5 Z" fill="#fff" stroke="#3d3d3d" stroke-width="0.84" />
<path d="M588.9,748.5 L595.7,776.5 L598.9,776.5 L592.1,748.5 Z" fill="#fff" stroke="#3d3d3d" stroke-width="0.84" />
<path d="M597.4,748.5 L604.2,776.5 L607.4,776.5 L600.6,748.5 Z" fill="#fff" stroke="#3d3d3d" stroke-width="0.84" />
<circle cx="574" cy="747.7" r="2.1" fill="#777" stroke="#3d3d3d" stroke-width="0.72"/>
<circle cx="582.5" cy="747.7" r="2.1" fill="#777" stroke="#3d3d3d" stroke-width="0.72"/>
<circle cx="591" cy="747.7" r="2.1" fill="#777" stroke="#3d3d3d" stroke-width="0.72"/>
<circle cx="599.5" cy="747.7" r="2.1" fill="#777" stroke="#3d3d3d" stroke-width="0.72"/>
<circle cx="608" cy="747.7" r="2.1" fill="#777" stroke="#3d3d3d" stroke-width="0.72"/>
<circle cx="614" cy="747.7" r="2.1" fill="#777" stroke="#3d3d3d" stroke-width="0.72"/>
<circle cx="572" cy="776.6" r="2.1" fill="#777" stroke="#3d3d3d" stroke-width="0.72"/>
<circle cx="578.5" cy="776.6" r="2.1" fill="#777" stroke="#3d3d3d" stroke-width="0.72"/>
<circle cx="587" cy="776.6" r="2.1" fill="#777" stroke="#3d3d3d" stroke-width="0.72"/>
<circle cx="595.5" cy="776.6" r="2.1" fill="#777" stroke="#3d3d3d" stroke-width="0.72"/>
<circle cx="604" cy="776.6" r="2.1" fill="#777" stroke="#3d3d3d" stroke-width="0.72"/>
<circle cx="612.5" cy="776.6" r="2.1" fill="#777" stroke="#3d3d3d" stroke-width="0.72"/>
<circle cx="653" cy="742.5" r="1.4" fill="#222" stroke="#3d3d3d" stroke-width="0.36"/>
<circle cx="653" cy="783" r="1.4" fill="#222" stroke="#3d3d3d" stroke-width="0.36"/>
<path d="M710,807 H749 Q754.5,807 756.5,813 L778,886 Q783,908 800,909.6 H814.5 V934.5 H777 V939.3 H766.5 Q760,939.3 760,946 V954 Q759,960 755,959.8 Q751,959 750,954.8 L732.4,904 Q730,899 726,899 H721.8 V880 H737 Q742.3,880 742.3,874 V833 Q742.3,825.4 735,825.4 H710 Z" fill="#b4b4b4" stroke="#3d3d3d" stroke-width="0.96" />
<path d="M709.3,1105.7 H719 Q722,1105.7 726,1101 L750.5,1076 Q752,1072 748,1070.5 Q743.4,1069 743.4,1064 V1046.3 H754.4 Q758.8,1046.3 758.8,1051 V1062 Q758.8,1067.2 764.3,1067.2 H775.3 V1073.8 H811.6 V1076 H815 V1082.6 H831.4 V1095.8 H805 L764,1119.5 Q760,1122.2 755,1122.2 H709.3 Z" fill="#b4b4b4" stroke="#3d3d3d" stroke-width="0.96" />
<line x1="709.6" y1="807" x2="709.6" y2="918" stroke="#3d3d3d" stroke-width="0.96" />
<line x1="709.6" y1="1081" x2="709.6" y2="1122" stroke="#3d3d3d" stroke-width="0.96" />
<path d="M710,918 Q733,938 745.5,979" fill="none" stroke="#1e1e1e" stroke-width="3" />
<path d="M690,979.6 H749 Q760,979 760,968 V958" fill="none" stroke="#3d3d3d" stroke-width="0.96" />
<path d="M690,1027.6 H748 Q760,1028 760,1038.6 V1046" fill="none" stroke="#3d3d3d" stroke-width="0.96" />
<path d="M363,916 H358 Q356,916 356,918 V947 Q356,949 358,949 H372 V916 Z" fill="#fff" stroke="#3d3d3d" stroke-width="0.96" />
<line x1="356" y1="925" x2="371" y2="925" stroke="#3d3d3d" stroke-width="0.72" />
<line x1="356" y1="941" x2="371" y2="941" stroke="#3d3d3d" stroke-width="0.72" />
<path d="M363,1057 H358 Q356,1057 356,1059 V1088 Q356,1090 358,1090 H372 V1057 Z" fill="#fff" stroke="#3d3d3d" stroke-width="0.96" />
<line x1="356" y1="1066" x2="371" y2="1066" stroke="#3d3d3d" stroke-width="0.72" />
<line x1="356" y1="1082" x2="371" y2="1082" stroke="#3d3d3d" stroke-width="0.72" />
<path d="M385.5,908 H380 Q375.5,908 375,913 L374,922 Q373,927 368,929 Q363,931 363,937 V1070 Q363,1076 368,1078 Q373,1080 374.5,1085 L376,1094 Q377,1100 382,1100 H385.5 V1070 H374.5 V936 H385.5 Z" fill="#b3b3b3" stroke="#3d3d3d" stroke-width="0.96" />
<line x1="385.7" y1="908" x2="385.7" y2="1100" stroke="#3d3d3d" stroke-width="1.4" />
<path d="M510,913 H624 Q628,913 628,917 V958 H594 V972 H576 V976.6 H524.8 V971 Q524.8,967 519,967 H506 V917 Q506,913 510,913 Z" fill="#a9a9a9" stroke="#3d3d3d" stroke-width="0.96" />
<path d="M524.8,1031 H576 V1035.4 H594 V1047 H626 Q630,1047 630,1051 V1088 Q630,1093 625,1093 H511 Q506,1093 506,1088 V1040.5 H519 Q524.8,1040.5 524.8,1036 Z" fill="#a9a9a9" stroke="#3d3d3d" stroke-width="0.96" />
<path d="M506.5,972 V967.5 M512,967 L514.5,970 H521.5 L524,977 M506.5,1036 V1040 M512,1040.5 L514.5,1037.5 H521.5 L524,1031" fill="none" stroke="#3d3d3d" stroke-width="0.84" />
<line x1="506" y1="910" x2="628" y2="910" stroke="#3d3d3d" stroke-width="0.96" />
<rect x="529" y="921" width="99" height="9" rx="0" fill="url(#h2)" stroke="#3d3d3d" stroke-width="0.84" />
<rect x="529" y="948" width="99" height="7.5" rx="0" fill="url(#h2)" stroke="#3d3d3d" stroke-width="0.84" />
<path d="M529,930 H628 V948 H529 Z" fill="#fff" stroke="#3d3d3d" stroke-width="0.84" />
<path d="M524,921 H529 V955.5 H524 Z" fill="#fff" stroke="#3d3d3d" stroke-width="0.84" />
<path d="M630,1049 H670 V1082 H630 Z" fill="#fff" stroke="#3d3d3d" stroke-width="0.84" />
<line x1="658" y1="1049" x2="658" y2="1082" stroke="#3d3d3d" stroke-width="0.84" />
<line x1="662" y1="1049" x2="662" y2="1082" stroke="#3d3d3d" stroke-width="0.84" />
<rect x="495" y="921" width="9.5" height="49" rx="0" fill="url(#h1)" stroke="#3d3d3d" stroke-width="0.84" />
<rect x="495" y="1035" width="9.5" height="52" rx="0" fill="url(#h1)" stroke="#3d3d3d" stroke-width="0.84" />
<line x1="504.8" y1="921" x2="504.8" y2="970" stroke="#3d3d3d" stroke-width="1.44" />
<line x1="504.8" y1="1030" x2="504.8" y2="1087" stroke="#3d3d3d" stroke-width="1.6" />
<path d="M524,934 H500 Q496,934 496,938 V944 Q496,948 500,948 H524" fill="#fff" stroke="#3d3d3d" stroke-width="0.84" />
<path d="M393,984 Q393,982 395,982 H429 L431,984 H445 L447,981 H497.5 V980 H517.8 L524.8,976.6 H556.3 L561,980 H572.4 L576,977 V972 H678 Q680,979 692,979.6 H749 Q760,979 761,966 H769 V973 H848 V1035 H769 V1042 H761 Q760,1028 748,1027.6 H692 Q680,1028 678,1035.4 H576 V1031 L572.4,1028 H561 L556.3,1031 H524.8 L517.8,1027.7 H497.5 V1026.5 H447 L445,1023 H431 L429,1024.5 H395 Q393,1024.5 393,1022.5 Z" fill="#fff" stroke="#3d3d3d" stroke-width="0.96" />
<line x1="429" y1="982" x2="429" y2="1024.5" stroke="#3d3d3d" stroke-width="0.96" />
<line x1="447" y1="981" x2="447" y2="1026.5" stroke="#3d3d3d" stroke-width="0.96" />
<line x1="497.5" y1="980" x2="497.5" y2="1027.7" stroke="#3d3d3d" stroke-width="0.96" />
<line x1="517.8" y1="980" x2="517.8" y2="1027.7" stroke="#3d3d3d" stroke-width="0.96" />
<line x1="524.8" y1="976.6" x2="524.8" y2="1031" stroke="#3d3d3d" stroke-width="0.96" />
<line x1="556.3" y1="976.6" x2="556.3" y2="1031" stroke="#3d3d3d" stroke-width="0.96" />
<line x1="561" y1="980" x2="561" y2="1028" stroke="#3d3d3d" stroke-width="0.96" />
<line x1="576" y1="972" x2="576" y2="1035.4" stroke="#3d3d3d" stroke-width="0.96" />
<line x1="678" y1="972" x2="678" y2="1035.4" stroke="#3d3d3d" stroke-width="0.96" />
<line x1="761" y1="966" x2="761" y2="1042" stroke="#3d3d3d" stroke-width="0.96" />
<line x1="769" y1="973" x2="769" y2="1035" stroke="#3d3d3d" stroke-width="0.96" />
<line x1="436" y1="984" x2="436" y2="1023" stroke="#3d3d3d" stroke-width="0.72" />
<line x1="442" y1="984" x2="442" y2="1023" stroke="#3d3d3d" stroke-width="0.72" />
<line x1="398" y1="986" x2="428" y2="986" stroke="#3d3d3d" stroke-width="0.72" stroke-dasharray="6 2"/>
<line x1="398" y1="1020.5" x2="428" y2="1020.5" stroke="#3d3d3d" stroke-width="0.72" stroke-dasharray="6 2"/>
<line x1="526" y1="978.8" x2="556" y2="978.8" stroke="#3d3d3d" stroke-width="0.72" stroke-dasharray="5 2"/>
<line x1="526" y1="1029" x2="556" y2="1029" stroke="#3d3d3d" stroke-width="0.72" stroke-dasharray="5 2"/>
<path d="M561,980 Q568,979 572.4,977 M561,1028 Q568,1029 572.4,1031" fill="none" stroke="#3d3d3d" stroke-width="0.72" />
<rect x="448" y="979.3" width="49" height="1.7" rx="0" fill="#666" stroke="#3d3d3d" stroke-width="0.48" />
<rect x="448" y="1026.5" width="49" height="1.7" rx="0" fill="#666" stroke="#3d3d3d" stroke-width="0.48" />
<path d="M848,973 H926 L930,978 V1029.5 L926,1034.5 H848 Z" fill="#fff" stroke="#3d3d3d" stroke-width="0.96" />
<path d="M927,973 H853 Q847.5,980.5 853,988 H927" fill="#fff" stroke="#3d3d3d" stroke-width="0.96" />
<path d="M853.5,975.8 H926 M853.5,985.2 H926" fill="none" stroke="#3d3d3d" stroke-width="0.72" />
<path d="M848.5,980.5 Q849,976 853.5,975.8 M848.5,980.5 Q849,985 853.5,985.2" fill="none" stroke="#3d3d3d" stroke-width="0.72" />
<path d="M927,997 H853 Q847.5,1004.0 853,1011 H927" fill="#fff" stroke="#3d3d3d" stroke-width="0.96" />
<path d="M853.5,999.8 H926 M853.5,1008.2 H926" fill="none" stroke="#3d3d3d" stroke-width="0.72" />
<path d="M848.5,1004.0 Q849,1000 853.5,999.8 M848.5,1004.0 Q849,1008 853.5,1008.2" fill="none" stroke="#3d3d3d" stroke-width="0.72" />
<path d="M927,1020 H853 Q847.5,1027.25 853,1034.5 H927" fill="#fff" stroke="#3d3d3d" stroke-width="0.96" />
<path d="M853.5,1022.8 H926 M853.5,1031.7 H926" fill="none" stroke="#3d3d3d" stroke-width="0.72" />
<path d="M848.5,1027.25 Q849,1023 853.5,1022.8 M848.5,1027.25 Q849,1031.5 853.5,1031.7" fill="none" stroke="#3d3d3d" stroke-width="0.72" />
<rect x="900" y="973" width="3.6" height="61.5" rx="0" fill="#fff" stroke="#3d3d3d" stroke-width="0.84" />
<circle cx="901.8" cy="973" r="1.4" fill="#fff" stroke="#3d3d3d" stroke-width="0.72"/>
<circle cx="901.8" cy="1034.5" r="1.4" fill="#fff" stroke="#3d3d3d" stroke-width="0.72"/>
<line x1="926" y1="973" x2="926" y2="1034.5" stroke="#3d3d3d" stroke-width="0.84" />
<circle cx="609.6" cy="966" r="4.4" fill="#8c8c8c" stroke="#3d3d3d" stroke-width="1.08"/>
<circle cx="625" cy="966" r="4.4" fill="#8c8c8c" stroke="#3d3d3d" stroke-width="1.08"/>
<circle cx="640.4" cy="966" r="4.4" fill="#8c8c8c" stroke="#3d3d3d" stroke-width="1.08"/>
<circle cx="601" cy="1041" r="4.4" fill="#8c8c8c" stroke="#3d3d3d" stroke-width="1.08"/>
<circle cx="617" cy="1041" r="4.4" fill="#8c8c8c" stroke="#3d3d3d" stroke-width="1.08"/>
<circle cx="633" cy="1041" r="4.4" fill="#8c8c8c" stroke="#3d3d3d" stroke-width="1.08"/>
<path d="M597,961.6 A4.4,4.4 0 0 1 597,970.4 Z" fill="#8c8c8c" stroke="#3d3d3d" stroke-width="1.08" />
<path d="M646.5,1036.6 A4.4,4.4 0 0 0 646.5,1045.4 Z" fill="#8c8c8c" stroke="#3d3d3d" stroke-width="1.08" />
<rect x="594" y="958" width="52" height="13.5" rx="0" fill="none" stroke="#3d3d3d" stroke-width="0.84" />
<rect x="594" y="1034" width="52" height="13.5" rx="0" fill="none" stroke="#3d3d3d" stroke-width="0.84" />
<path d="M646.5,958 H660 Q674,959 681,968 L681,971 H646.5 Z" fill="#8c8c8c" stroke="#3d3d3d" stroke-width="0.96" />
<path d="M646.5,1036 H681 Q672,1047 652,1048 H646.5 Z" fill="#8c8c8c" stroke="#3d3d3d" stroke-width="0.96" />
<rect x="433" y="832" width="4" height="44" rx="0" fill="#fff" stroke="#3d3d3d" stroke-width="0.84" />
<path d="M437,839 H620 L625,848 H680 Q683.5,848 683.5,853.5 Q683.5,859 680,859 H625 L620,868 H437 Z" fill="#c6c6c6" stroke="#3d3d3d" stroke-width="0.96" />
<rect x="419.5" y="842.5" width="13" height="23" rx="1.5" fill="#fff" stroke="#3d3d3d" stroke-width="0.84" />
<line x1="421" y1="845" x2="431" y2="845" stroke="#3d3d3d" stroke-width="0.72" />
<line x1="421" y1="847.5" x2="431" y2="847.5" stroke="#3d3d3d" stroke-width="0.72" />
<line x1="421" y1="850" x2="431" y2="850" stroke="#3d3d3d" stroke-width="0.72" />
<line x1="421" y1="857" x2="431" y2="857" stroke="#3d3d3d" stroke-width="0.72" />
<line x1="421" y1="859.5" x2="431" y2="859.5" stroke="#3d3d3d" stroke-width="0.72" />
<line x1="421" y1="862" x2="431" y2="862" stroke="#3d3d3d" stroke-width="0.72" />
<circle cx="444.0" cy="835.6" r="2.9" fill="#8c8c8c" stroke="#3d3d3d" stroke-width="0.96"/>
<circle cx="452.7" cy="835.6" r="2.9" fill="#8c8c8c" stroke="#3d3d3d" stroke-width="0.96"/>
<circle cx="461.3" cy="835.6" r="2.9" fill="#8c8c8c" stroke="#3d3d3d" stroke-width="0.96"/>
<circle cx="470.0" cy="835.6" r="2.9" fill="#8c8c8c" stroke="#3d3d3d" stroke-width="0.96"/>
<circle cx="478.7" cy="835.6" r="2.9" fill="#8c8c8c" stroke="#3d3d3d" stroke-width="0.96"/>
<circle cx="487.4" cy="835.6" r="2.9" fill="#8c8c8c" stroke="#3d3d3d" stroke-width="0.96"/>
<circle cx="496.0" cy="835.6" r="2.9" fill="#8c8c8c" stroke="#3d3d3d" stroke-width="0.96"/>
<circle cx="504.7" cy="835.6" r="2.9" fill="#8c8c8c" stroke="#3d3d3d" stroke-width="0.96"/>
<circle cx="513.4" cy="835.6" r="2.9" fill="#8c8c8c" stroke="#3d3d3d" stroke-width="0.96"/>
<circle cx="522.0" cy="835.6" r="2.9" fill="#8c8c8c" stroke="#3d3d3d" stroke-width="0.96"/>
<circle cx="530.7" cy="835.6" r="2.9" fill="#8c8c8c" stroke="#3d3d3d" stroke-width="0.96"/>
<circle cx="539.4" cy="835.6" r="2.9" fill="#8c8c8c" stroke="#3d3d3d" stroke-width="0.96"/>
<circle cx="548.0" cy="835.6" r="2.9" fill="#8c8c8c" stroke="#3d3d3d" stroke-width="0.96"/>
<circle cx="556.7" cy="835.6" r="2.9" fill="#8c8c8c" stroke="#3d3d3d" stroke-width="0.96"/>
<circle cx="565.4" cy="835.6" r="2.9" fill="#8c8c8c" stroke="#3d3d3d" stroke-width="0.96"/>
<circle cx="574.0" cy="835.6" r="2.9" fill="#8c8c8c" stroke="#3d3d3d" stroke-width="0.96"/>
<circle cx="582.7" cy="835.6" r="2.9" fill="#8c8c8c" stroke="#3d3d3d" stroke-width="0.96"/>
<circle cx="440.0" cy="872" r="2.9" fill="#8c8c8c" stroke="#3d3d3d" stroke-width="0.96"/>
<circle cx="448.6" cy="872" r="2.9" fill="#8c8c8c" stroke="#3d3d3d" stroke-width="0.96"/>
<circle cx="457.3" cy="872" r="2.9" fill="#8c8c8c" stroke="#3d3d3d" stroke-width="0.96"/>
<circle cx="465.9" cy="872" r="2.9" fill="#8c8c8c" stroke="#3d3d3d" stroke-width="0.96"/>
<circle cx="474.6" cy="872" r="2.9" fill="#8c8c8c" stroke="#3d3d3d" stroke-width="0.96"/>
<circle cx="483.2" cy="872" r="2.9" fill="#8c8c8c" stroke="#3d3d3d" stroke-width="0.96"/>
<circle cx="491.8" cy="872" r="2.9" fill="#8c8c8c" stroke="#3d3d3d" stroke-width="0.96"/>
<circle cx="500.5" cy="872" r="2.9" fill="#8c8c8c" stroke="#3d3d3d" stroke-width="0.96"/>
<circle cx="509.1" cy="872" r="2.9" fill="#8c8c8c" stroke="#3d3d3d" stroke-width="0.96"/>
<circle cx="517.8" cy="872" r="2.9" fill="#8c8c8c" stroke="#3d3d3d" stroke-width="0.96"/>
<circle cx="526.4" cy="872" r="2.9" fill="#8c8c8c" stroke="#3d3d3d" stroke-width="0.96"/>
<circle cx="535.0" cy="872" r="2.9" fill="#8c8c8c" stroke="#3d3d3d" stroke-width="0.96"/>
<circle cx="543.7" cy="872" r="2.9" fill="#8c8c8c" stroke="#3d3d3d" stroke-width="0.96"/>
<circle cx="552.3" cy="872" r="2.9" fill="#8c8c8c" stroke="#3d3d3d" stroke-width="0.96"/>
<circle cx="561.0" cy="872" r="2.9" fill="#8c8c8c" stroke="#3d3d3d" stroke-width="0.96"/>
<circle cx="569.6" cy="872" r="2.9" fill="#8c8c8c" stroke="#3d3d3d" stroke-width="0.96"/>
<circle cx="578.2" cy="872" r="2.9" fill="#8c8c8c" stroke="#3d3d3d" stroke-width="0.96"/>
<circle cx="586.9" cy="872" r="2.9" fill="#8c8c8c" stroke="#3d3d3d" stroke-width="0.96"/>
<line x1="589.5" y1="831" x2="589.5" y2="839" stroke="#3d3d3d" stroke-width="0.96" />
<line x1="589.5" y1="868" x2="589.5" y2="876" stroke="#3d3d3d" stroke-width="0.96" />
<path d="M644,869 L670,861 L678,863 L688,888 L693,889 L702,914 L700,920 L670,952 L664,949 L650,910 Z" fill="url(#h3)" stroke="#3d3d3d" stroke-width="0.96" />
<path d="M694,1029 L699,1035 H742.3 V1069.4 L712.6,1081.5 Z" fill="url(#h3)" stroke="#3d3d3d" stroke-width="0.96" />
<path d="M679.6,1034 L687.3,1030 L703.8,1080.4 L696,1083.7 Z" fill="url(#h4)" stroke="#3d3d3d" stroke-width="0.96" />
<line x1="742.3" y1="1029" x2="742.3" y2="1035" stroke="#3d3d3d" stroke-width="0.96" />
<path d="M679.5,864.3 L691.5,860 L698.5,879 L686.5,883.3 Z" fill="#fff" stroke="#3d3d3d" stroke-width="0.84" />
<line x1="681.6" y1="866.2" x2="691.0" y2="862.8" stroke="#3d3d3d" stroke-width="0.84" />
<line x1="682.3" y1="868.1" x2="691.7" y2="864.7" stroke="#3d3d3d" stroke-width="0.84" />
<line x1="683.0" y1="870.0" x2="692.4" y2="866.6" stroke="#3d3d3d" stroke-width="0.84" />
<line x1="685.3" y1="876.1" x2="694.7" y2="872.7" stroke="#3d3d3d" stroke-width="0.84" />
<line x1="686.0" y1="878.0" x2="695.4" y2="874.6" stroke="#3d3d3d" stroke-width="0.84" />
<line x1="686.7" y1="879.9" x2="696.1" y2="876.5" stroke="#3d3d3d" stroke-width="0.84" />
<path d="M646.5,831 Q646,828.5 648.5,828 L659.5,825.6 Q662,825 662.6,827.5 L681,916.5 L678.5,919.5 L668.5,921.7 L665,920 Z" fill="#dcdcdc" stroke="#3d3d3d" stroke-width="0.96" />
<line x1="664.7" y1="918.2" x2="680.6" y2="914.8" stroke="#3d3d3d" stroke-width="0.72" />
<path d="M649,846 Q643,853 651,861 Z" fill="#777" stroke="#3d3d3d" stroke-width="0.84" />
<path d="M666,846 Q673,853 668.5,861 Z" fill="#777" stroke="#3d3d3d" stroke-width="0.84" />
<rect x="-8.5" y="-15.0" width="17" height="30" fill="#fff" stroke="#3d3d3d" stroke-width="0.7" transform="translate(623,882) rotate(-20)"/>
<rect x="-6.5" y="-18.0" width="13" height="36" fill="#fff" stroke="#3d3d3d" stroke-width="0.7" transform="translate(637,880) rotate(-20)"/>
<rect x="-3.5" y="-20.0" width="7" height="40" fill="#fff" stroke="#3d3d3d" stroke-width="0.7" transform="translate(646,883) rotate(-20)"/>
<path d="M612,868 L622,862 L644,866 L648,872" fill="none" stroke="#3d3d3d" stroke-width="0.84" />
<path d="M612,870 L611,893 Q613,899 618,898" fill="none" stroke="#3d3d3d" stroke-width="0.84" />
<path d="M631,914.8 L647.8,910 L661,946 L655,949.6 L651.4,944.8 L643,947 L640.6,944.8 L634.6,949.6 L622.6,948.4 Q616,944 616.6,936.4 Q617,932 620,930.4 L634.6,926.8 L635.8,920.8 L632,918.4 Z" fill="#8e8e8e" stroke="#3d3d3d" stroke-width="0.96" />
<path d="M632,916.6 L640,914 L641.4,918.4 L634.6,920.8 Z" fill="url(#h4)" stroke="#3d3d3d" stroke-width="0.72" />
<path d="M646.5,951.5 L655,949.5 L657.5,958.5 L649,960.5 Z" fill="url(#h4)" stroke="#3d3d3d" stroke-width="0.72" />
<path d="M619,941 L655,928.6" fill="none" stroke="#333" stroke-width="2.2" />
<path d="M621,940.3 L646,931.7" fill="none" stroke="#eee" stroke-width="1.08" stroke-dasharray="3 2.5"/>
<path d="M634.6,949.6 L642,968" fill="none" stroke="#3d3d3d" stroke-width="0.84" />
<path d="M668.6,1049.6 H680.7 V1080.4 H668.6 Z" fill="#fff" stroke="#3d3d3d" stroke-width="0.84" />
<path d="M680.7,1049.6 Q686,1065 680.7,1080.4" fill="none" stroke="#3d3d3d" stroke-width="0.84" />
<path d="M494,1046 H440 V1054 H436 Q426.5,1054 426.5,1064.5 Q426.5,1075 436,1075 H440 V1082 H494 Z" fill="#fff" stroke="#3d3d3d" stroke-width="0.96" />
<path d="M472,1046 H494 V1057 H474 V1072 H494 V1082 H472 Z" fill="url(#h4)" stroke="#3d3d3d" stroke-width="0.96" />
<path d="M494,1057 H504.5 V1072 H494" fill="#fff" stroke="#3d3d3d" stroke-width="0.84" />
<path d="M441.8,1050.5 L446.6,1078.5 M446.2,1049.5 L451,1077.5" fill="none" stroke="#3d3d3d" stroke-width="0.96" />
<circle cx="444" cy="1050" r="2.4" fill="#999" stroke="#3d3d3d" stroke-width="0.96"/>
<circle cx="448.6" cy="1078" r="2.4" fill="#999" stroke="#3d3d3d" stroke-width="0.96"/>
<path d="M450.8,1050.5 L455.6,1078.5 M455.2,1049.5 L460,1077.5" fill="none" stroke="#3d3d3d" stroke-width="0.96" />
<circle cx="453" cy="1050" r="2.4" fill="#999" stroke="#3d3d3d" stroke-width="0.96"/>
<circle cx="457.6" cy="1078" r="2.4" fill="#999" stroke="#3d3d3d" stroke-width="0.96"/>
<path d="M459.8,1050.5 L464.6,1078.5 M464.2,1049.5 L469,1077.5" fill="none" stroke="#3d3d3d" stroke-width="0.96" />
<circle cx="462" cy="1050" r="2.4" fill="#999" stroke="#3d3d3d" stroke-width="0.96"/>
<circle cx="466.6" cy="1078" r="2.4" fill="#999" stroke="#3d3d3d" stroke-width="0.96"/>
<path d="M468.3,1050.5 L473.1,1078.5 M472.7,1049.5 L477.5,1077.5" fill="none" stroke="#3d3d3d" stroke-width="0.96" />
<circle cx="470.5" cy="1050" r="2.4" fill="#999" stroke="#3d3d3d" stroke-width="0.96"/>
<circle cx="475.1" cy="1078" r="2.4" fill="#999" stroke="#3d3d3d" stroke-width="0.96"/>
<rect x="481.3" y="1046.6" width="3.6" height="3.4" rx="0" fill="#222" stroke="#3d3d3d" stroke-width="0.36" />
<rect x="481.3" y="1078" width="3.6" height="3.4" rx="0" fill="#222" stroke="#3d3d3d" stroke-width="0.36" />
<path d="M478,956 Q475,960 478,964 H494 V956 Z" fill="none" stroke="#3d3d3d" stroke-width="0.84" stroke-dasharray="4 2"/>
<line x1="472" y1="960" x2="496" y2="960" stroke="#3d3d3d" stroke-width="0.72" />
<path d="M781,935 H807.4 V940.7 H781 Z" fill="#dcdcdc" stroke="#3d3d3d" stroke-width="0.84" />
<path d="M782,942 H811.6 V950.6 L783.4,947 Z" fill="#9a9a9a" stroke="#3d3d3d" stroke-width="0.84" />
<path d="M783.4,948.5 L807.4,953.4 L805.3,964.7 L780.5,959 Z" fill="#fff" stroke="#3d3d3d" stroke-width="0.96" />
<line x1="785" y1="953.5" x2="806" y2="958.5" stroke="#3d3d3d" stroke-width="0.72" stroke-dasharray="6 2"/>
<path d="M768.5,972.7 V962 Q768.5,956.2 774,956.2 H779 L782,961 L809.5,966.5 V972.7 Z" fill="#9a9a9a" stroke="#3d3d3d" stroke-width="0.84" />
<path d="M777,934.5 V943 H781" fill="none" stroke="#3d3d3d" stroke-width="0.84" />
<path d="M777.5,1068 H810 V1073.8 H777.5 Z" fill="#dcdcdc" stroke="#3d3d3d" stroke-width="0.84" />
<path d="M779,1066.5 H811 V1057 L781,1061.5 Z" fill="#9a9a9a" stroke="#3d3d3d" stroke-width="0.84" />
<path d="M783.5,1059.5 L808.5,1054 L806,1042.5 L780.5,1048 Z" fill="#fff" stroke="#3d3d3d" stroke-width="0.96" />
<line x1="785" y1="1053.5" x2="806" y2="1048.5" stroke="#3d3d3d" stroke-width="0.72" stroke-dasharray="6 2"/>
<path d="M769,1035 V1046 Q769,1051.5 774,1051.5 H779 L782,1047 L809.5,1041.5 V1035 Z" fill="#9a9a9a" stroke="#3d3d3d" stroke-width="0.84" />
<path d="M776,1052 V1068" fill="none" stroke="#3d3d3d" stroke-width="0.84" />
<rect x="809.5" y="969.5" width="44" height="3.4" rx="0" fill="#8a8a8a" stroke="#3d3d3d" stroke-width="0.72" />
<rect x="809.5" y="1035" width="44" height="3.4" rx="0" fill="#8a8a8a" stroke="#3d3d3d" stroke-width="0.72" />
<path d="M815,934.5 H848 V969.5 H815 Z" fill="#fff" stroke="#3d3d3d" stroke-width="0.84" />
<path d="M815,949 V928.5 L817,926.5 H821 V909.6 H832.4 V935 H845.5 Q848,935 848,937.5 V949 Z" fill="#dcdcdc" stroke="#3d3d3d" stroke-width="0.84" />
<path d="M821.5,909.6 H832.4 V925 L830.5,927 H823.5 L821.5,925 Z" fill="#fff" stroke="#3d3d3d" stroke-width="0.84" />
<path d="M825.3,912 V951 M828.6,912 V951" fill="none" stroke="#3d3d3d" stroke-width="0.84" />
<line x1="827" y1="912" x2="827" y2="948" stroke="#3d3d3d" stroke-width="0.6" stroke-dasharray="6 2"/>
<path d="M816.5,951 H824.3 V968 H816.5 Z M829.7,951 H837.5 V968 H829.7 Z" fill="#fff" stroke="#3d3d3d" stroke-width="0.72" />
<path d="M824,952.5 Q818,952.5 818,958 V963 Q818,966.8 821.5,966.8 H824" fill="#bdbdbd" stroke="#333" stroke-width="1.7" />
<path d="M830,952.5 Q836,952.5 836,958 V963 Q836,966.8 832.5,966.8 H830" fill="#bdbdbd" stroke="#333" stroke-width="1.7" />
<circle cx="821.2" cy="964" r="1.5" fill="#fff" stroke="#3d3d3d" stroke-width="0.96"/>
<circle cx="832.8" cy="964" r="1.5" fill="#fff" stroke="#3d3d3d" stroke-width="0.96"/>
<rect x="825.5" y="949" width="3" height="20" rx="0" fill="#b0b0b0" stroke="#3d3d3d" stroke-width="0.84" />
<line x1="840" y1="949" x2="840" y2="969.5" stroke="#3d3d3d" stroke-width="0.72" />
<line x1="843" y1="949" x2="843" y2="969.5" stroke="#3d3d3d" stroke-width="0.72" />
<path d="M804.6,909.3 H830" fill="none" stroke="#333" stroke-width="1.6" />
<path d="M814.5,909 Q814.5,905.5 817.5,905.5 Q820.5,905.5 820.5,909 V918 Q820.5,921 817.5,921 Q814.5,921 814.5,918 Z" fill="#fff" stroke="#3d3d3d" stroke-width="0.84" />
<rect x="816.3" y="912" width="2.4" height="6.5" rx="0" fill="none" stroke="#3d3d3d" stroke-width="0.72" />
<line x1="817.5" y1="903.5" x2="817.5" y2="924" stroke="#3d3d3d" stroke-width="0.6" />
<circle cx="817.3" cy="926.6" r="1.4" fill="#222" stroke="#3d3d3d" stroke-width="0.36"/>
<path d="M815,1038.4 H848 V1058 H815 Z" fill="#fff" stroke="#3d3d3d" stroke-width="0.84" />
<path d="M812,1058 H848 V1071 Q848,1073.2 846,1073.2 H832 V1083 H819 V1076 H812 Z" fill="#dcdcdc" stroke="#3d3d3d" stroke-width="0.84" />
<path d="M816.5,1040.5 H824 V1055.5 H816.5 Z M830,1040.5 H837.5 V1055.5 H830 Z" fill="#fff" stroke="#3d3d3d" stroke-width="0.84" />
<path d="M824,1055.5 Q818,1055.5 818,1050 V1045 Q818,1041.2 821.5,1041.2 H824" fill="#bdbdbd" stroke="#333" stroke-width="1.7" />
<path d="M830,1055.5 Q836,1055.5 836,1050 V1045 Q836,1041.2 832.5,1041.2 H830" fill="#bdbdbd" stroke="#333" stroke-width="1.7" />
<circle cx="821.2" cy="1044" r="1.5" fill="#fff" stroke="#3d3d3d" stroke-width="0.96"/>
<circle cx="832.8" cy="1044" r="1.5" fill="#fff" stroke="#3d3d3d" stroke-width="0.96"/>
<rect x="825.5" y="1039" width="3" height="22" rx="0" fill="#b0b0b0" stroke="#3d3d3d" stroke-width="0.84" />
<line x1="840" y1="1038.4" x2="840" y2="1058" stroke="#3d3d3d" stroke-width="0.72" />
<line x1="843" y1="1038.4" x2="843" y2="1058" stroke="#3d3d3d" stroke-width="0.72" />
<line x1="827" y1="1060" x2="827" y2="1086" stroke="#3d3d3d" stroke-width="0.72" stroke-dasharray="5 2"/>
<rect x="814.5" y="1078.5" width="3" height="3.2" rx="0" fill="#222" stroke="#3d3d3d" stroke-width="0.36" />
<path d="M425.5,800.5 V793 Q425.5,790 428.5,790 H458.5 Q461.5,790 461.5,793 V800.5 Z" fill="#fff" stroke="#3d3d3d" stroke-width="0.96" />
<line x1="434.5" y1="790" x2="434.5" y2="800.5" stroke="#3d3d3d" stroke-width="0.84" />
<line x1="453.5" y1="790" x2="453.5" y2="800.5" stroke="#3d3d3d" stroke-width="0.84" />
<rect x="424.5" y="800.5" width="38" height="2.5" rx="0" fill="#777" stroke="#3d3d3d" stroke-width="0.6" />
<path d="M433,803 V819 Q433,822 436,822 H452 Q455,822 455,819 V803 Z" fill="#fff" stroke="#3d3d3d" stroke-width="0.96" />
<line x1="433.5" y1="807" x2="440" y2="807" stroke="#3d3d3d" stroke-width="0.72" />
<line x1="448" y1="807" x2="454.5" y2="807" stroke="#3d3d3d" stroke-width="0.72" />
<line x1="433.5" y1="811" x2="440" y2="811" stroke="#3d3d3d" stroke-width="0.72" />
<line x1="448" y1="811" x2="454.5" y2="811" stroke="#3d3d3d" stroke-width="0.72" />
<line x1="433.5" y1="815" x2="440" y2="815" stroke="#3d3d3d" stroke-width="0.72" />
<line x1="448" y1="815" x2="454.5" y2="815" stroke="#3d3d3d" stroke-width="0.72" />
<line x1="433.5" y1="819" x2="440" y2="819" stroke="#3d3d3d" stroke-width="0.72" />
<line x1="448" y1="819" x2="454.5" y2="819" stroke="#3d3d3d" stroke-width="0.72" />
<line x1="437" y1="804" x2="437" y2="821" stroke="#3d3d3d" stroke-width="0.6" />
<line x1="451" y1="804" x2="451" y2="821" stroke="#3d3d3d" stroke-width="0.6" />
<line x1="443.5" y1="785" x2="443.5" y2="826" stroke="#3d3d3d" stroke-width="0.72" stroke-dasharray="8 2 2 2"/>
<path d="M619.5,1097 V1122 H642.5 V1097 Z" fill="#fff" stroke="#3d3d3d" stroke-width="0.96" />
<line x1="622.5" y1="1098" x2="622.5" y2="1121" stroke="#3d3d3d" stroke-width="0.72" stroke-dasharray="3 1.5"/>
<line x1="639.5" y1="1098" x2="639.5" y2="1121" stroke="#3d3d3d" stroke-width="0.72" stroke-dasharray="3 1.5"/>
<rect x="612.5" y="1119.5" width="37" height="2.5" rx="0" fill="#777" stroke="#3d3d3d" stroke-width="0.6" />
<path d="M612.5,1122 H649 V1132 Q649,1135 646,1135 H615.5 Q612.5,1135 612.5,1132 Z" fill="#fff" stroke="#3d3d3d" stroke-width="0.96" />
<line x1="621" y1="1122" x2="621" y2="1135" stroke="#3d3d3d" stroke-width="0.84" />
<line x1="640.5" y1="1122" x2="640.5" y2="1135" stroke="#3d3d3d" stroke-width="0.84" />
<line x1="631" y1="1100" x2="631" y2="1140" stroke="#3d3d3d" stroke-width="0.72" stroke-dasharray="8 2 2 2"/>
<line x1="355" y1="1003.6" x2="936" y2="1003.6" stroke="#3d3d3d" stroke-width="0.84" stroke-dasharray="22 3 4 3"/>
<line x1="376" y1="854" x2="690" y2="854" stroke="#3d3d3d" stroke-width="0.84" stroke-dasharray="22 3 4 3"/>
<line x1="458" y1="762.4" x2="700" y2="762.4" stroke="#3d3d3d" stroke-width="0.72" stroke-dasharray="14 2.5 3 2.5"/>
<line x1="520" y1="939" x2="640" y2="939" stroke="#3d3d3d" stroke-width="0.84" stroke-dasharray="22 3 4 3"/>
<line x1="422" y1="1064" x2="500" y2="1064" stroke="#3d3d3d" stroke-width="0.72" stroke-dasharray="14 2.5 3 2.5"/>
<line x1="620" y1="1065" x2="668" y2="1065" stroke="#3d3d3d" stroke-width="0.84" stroke-dasharray="22 3 4 3"/>
<line x1="619" y1="910" x2="646" y2="990" stroke="#3d3d3d" stroke-width="0.84" stroke-dasharray="10 3"/>
<line x1="638" y1="962" x2="682" y2="1084" stroke="#3d3d3d" stroke-width="0.84" stroke-dasharray="12 3 3 3"/>
<line x1="652" y1="822" x2="678" y2="932" stroke="#3d3d3d" stroke-width="0.72" stroke-dasharray="14 3 3 3"/>
<line x1="633" y1="1011.5" x2="676" y2="996" stroke="#3d3d3d" stroke-width="0.72" />
<circle cx="653" cy="1003.6" r="1.3" fill="#222" stroke="#3d3d3d" stroke-width="0.36"/>
<line x1="566" y1="885" x2="650" y2="885" stroke="#3d3d3d" stroke-width="0.72" stroke-dasharray="18 3 4 3"/>
<line x1="598" y1="888" x2="618" y2="880" stroke="#3d3d3d" stroke-width="0.72" />
<line x1="612" y1="877" x2="620" y2="899" stroke="#3d3d3d" stroke-width="0.72" />
<line x1="660" y1="881" x2="702" y2="866" stroke="#3d3d3d" stroke-width="0.72" />
<line x1="654" y1="1058" x2="702" y2="1042" stroke="#3d3d3d" stroke-width="0.72" />
<line x1="660" y1="1046" x2="676" y2="1090" stroke="#3d3d3d" stroke-width="0.72" />
<line x1="664" y1="900" x2="697" y2="890" stroke="#3d3d3d" stroke-width="0.72" stroke-dasharray="9 3"/>
<path d="M372,698.5 L400.4,834" fill="none" stroke="#2e2e2e" stroke-width="0.96" />
<circle cx="400.4" cy="834" r="1.5" fill="#222" stroke="#3d3d3d" stroke-width="0.24"/>
<path d="M416,698.5 L436,786" fill="none" stroke="#2e2e2e" stroke-width="0.96" />
<path d="M457.5,698.5 L488,834" fill="none" stroke="#2e2e2e" stroke-width="0.96" />
<path d="M701.2,698.5 L689,746" fill="none" stroke="#2e2e2e" stroke-width="0.96" />
<path d="M743.6,698.5 L720,784 L630.6,883" fill="none" stroke="#2e2e2e" stroke-width="0.96" />
<circle cx="630.6" cy="883" r="1.5" fill="#222" stroke="#3d3d3d" stroke-width="0.24"/>
<path d="M786.4,698.5 L766,780 L693.4,904.4" fill="none" stroke="#2e2e2e" stroke-width="0.96" />
<circle cx="693.4" cy="904.4" r="1.5" fill="#222" stroke="#3d3d3d" stroke-width="0.24"/>
<path d="M827.6,698.5 L804,796 L733.5,937" fill="none" stroke="#2e2e2e" stroke-width="0.96" />
<path d="M369.8,1170.5 L380,1091.6" fill="none" stroke="#2e2e2e" stroke-width="0.96" />
<circle cx="380" cy="1091.6" r="1.5" fill="#222" stroke="#3d3d3d" stroke-width="0.24"/>
<path d="M410.4,1170.5 L419,1019.4" fill="none" stroke="#2e2e2e" stroke-width="0.96" />
<circle cx="419" cy="1019.4" r="1.5" fill="#222" stroke="#3d3d3d" stroke-width="0.24"/>
<path d="M452.6,1170.5 L459,1030" fill="none" stroke="#2e2e2e" stroke-width="0.96" />
<path d="M493.6,1170.5 L487,1086" fill="none" stroke="#2e2e2e" stroke-width="0.96" />
<path d="M532,1170.5 Q527,1140 514.5,1105 Q508,1088 501,1078" fill="none" stroke="#2e2e2e" stroke-width="0.96" />
<path d="M573,1170.5 L538,1082.4" fill="none" stroke="#2e2e2e" stroke-width="0.96" />
<circle cx="538" cy="1082.4" r="1.5" fill="#222" stroke="#3d3d3d" stroke-width="0.24"/>
<path d="M615.2,1170.5 L593,1113 L588.6,1102.4" fill="none" stroke="#2e2e2e" stroke-width="0.96" />
<circle cx="588.6" cy="1102.4" r="1.5" fill="#222" stroke="#3d3d3d" stroke-width="0.24"/>
<path d="M655.5,1171.5 L645,1139" fill="none" stroke="#2e2e2e" stroke-width="0.96" />
<path d="M699.2,1170.5 L657.5,1074.6" fill="none" stroke="#2e2e2e" stroke-width="0.96" />
<circle cx="657.5" cy="1074.6" r="1.5" fill="#222" stroke="#3d3d3d" stroke-width="0.24"/>
<path d="M740.8,1170.5 L696,1074.3" fill="none" stroke="#2e2e2e" stroke-width="0.96" />
<circle cx="696" cy="1074.3" r="1.5" fill="#222" stroke="#3d3d3d" stroke-width="0.24"/>
<path d="M782.4,1170.5 L759.6,1110.4" fill="none" stroke="#2e2e2e" stroke-width="0.96" />
<circle cx="759.6" cy="1110.4" r="1.5" fill="#222" stroke="#3d3d3d" stroke-width="0.24"/>
<path d="M825.6,1170.5 L794.4,1063.4" fill="none" stroke="#2e2e2e" stroke-width="0.96" />
<circle cx="794.4" cy="1063.4" r="1.5" fill="#222" stroke="#3d3d3d" stroke-width="0.24"/>
<path d="M868.8,1170.5 L838.4,1067" fill="none" stroke="#2e2e2e" stroke-width="0.96" />
<circle cx="838.4" cy="1067" r="1.5" fill="#222" stroke="#3d3d3d" stroke-width="0.24"/>
<path d="M910.4,1170.5 L869,1024" fill="none" stroke="#2e2e2e" stroke-width="0.96" />
<circle cx="869" cy="1024" r="1.5" fill="#222" stroke="#3d3d3d" stroke-width="0.24"/>
<circle cx="369" cy="684" r="14.5" fill="#fff" stroke="#3d3d3d" stroke-width="1.08"/>
<text x="369" y="690.2" font-size="17.4" text-anchor="middle" fill="#222">1</text>
<circle cx="411.6" cy="684" r="14.5" fill="#fff" stroke="#3d3d3d" stroke-width="1.08"/>
<text x="411.6" y="690.2" font-size="17.4" text-anchor="middle" fill="#222">2</text>
<circle cx="454.6" cy="684" r="14.5" fill="#fff" stroke="#3d3d3d" stroke-width="1.08"/>
<text x="454.6" y="690.2" font-size="17.4" text-anchor="middle" fill="#222">3</text>
<circle cx="704.4" cy="684" r="14.5" fill="#fff" stroke="#3d3d3d" stroke-width="1.08"/>
<text x="704.4" y="690.2" font-size="17.4" text-anchor="middle" fill="#222">4</text>
<circle cx="746.8" cy="684" r="14.5" fill="#fff" stroke="#3d3d3d" stroke-width="1.08"/>
<text x="746.8" y="690.2" font-size="17.4" text-anchor="middle" fill="#222">5</text>
<circle cx="789" cy="684" r="14.5" fill="#fff" stroke="#3d3d3d" stroke-width="1.08"/>
<text x="789" y="690.2" font-size="17.4" text-anchor="middle" fill="#222">6</text>
<circle cx="831.4" cy="684" r="14.5" fill="#fff" stroke="#3d3d3d" stroke-width="1.08"/>
<text x="831.4" y="690.2" font-size="17.4" text-anchor="middle" fill="#222">7</text>
<circle cx="367.2" cy="1185" r="14.5" fill="#fff" stroke="#3d3d3d" stroke-width="1.08"/>
<text x="367.2" y="1191.2" font-size="17.4" text-anchor="middle" fill="#222">8</text>
<circle cx="409.3" cy="1185" r="14.5" fill="#fff" stroke="#3d3d3d" stroke-width="1.08"/>
<text x="409.3" y="1191.2" font-size="17.4" text-anchor="middle" fill="#222">9</text>
<circle cx="451.4" cy="1185" r="14.5" fill="#fff" stroke="#3d3d3d" stroke-width="1.08"/>
<text x="451.4" y="1191.2" font-size="17.4" text-anchor="middle" fill="#222" textLength="20" lengthAdjust="spacingAndGlyphs">10</text>
<circle cx="493.5" cy="1185" r="14.5" fill="#fff" stroke="#3d3d3d" stroke-width="1.08"/>
<text x="493.5" y="1191.2" font-size="17.4" text-anchor="middle" fill="#222" textLength="20" lengthAdjust="spacingAndGlyphs">11</text>
<circle cx="535.6" cy="1185" r="14.5" fill="#fff" stroke="#3d3d3d" stroke-width="1.08"/>
<text x="535.6" y="1191.2" font-size="17.4" text-anchor="middle" fill="#222" textLength="20" lengthAdjust="spacingAndGlyphs">12</text>
<circle cx="577.7" cy="1185" r="14.5" fill="#fff" stroke="#3d3d3d" stroke-width="1.08"/>
<text x="577.7" y="1191.2" font-size="17.4" text-anchor="middle" fill="#222" textLength="20" lengthAdjust="spacingAndGlyphs">13</text>
<circle cx="619.8" cy="1185" r="14.5" fill="#fff" stroke="#3d3d3d" stroke-width="1.08"/>
<text x="619.8" y="1191.2" font-size="17.4" text-anchor="middle" fill="#222" textLength="20" lengthAdjust="spacingAndGlyphs">14</text>
<circle cx="661.9" cy="1185" r="14.5" fill="#fff" stroke="#3d3d3d" stroke-width="1.08"/>
<text x="661.9" y="1191.2" font-size="17.4" text-anchor="middle" fill="#222" textLength="20" lengthAdjust="spacingAndGlyphs">15</text>
<circle cx="704" cy="1185" r="14.5" fill="#fff" stroke="#3d3d3d" stroke-width="1.08"/>
<text x="704" y="1191.2" font-size="17.4" text-anchor="middle" fill="#222" textLength="20" lengthAdjust="spacingAndGlyphs">16</text>
<circle cx="746.1" cy="1185" r="14.5" fill="#fff" stroke="#3d3d3d" stroke-width="1.08"/>
<text x="746.1" y="1191.2" font-size="17.4" text-anchor="middle" fill="#222" textLength="20" lengthAdjust="spacingAndGlyphs">17</text>
<circle cx="788.2" cy="1185" r="14.5" fill="#fff" stroke="#3d3d3d" stroke-width="1.08"/>
<text x="788.2" y="1191.2" font-size="17.4" text-anchor="middle" fill="#222" textLength="20" lengthAdjust="spacingAndGlyphs">18</text>
<circle cx="830.3" cy="1185" r="14.5" fill="#fff" stroke="#3d3d3d" stroke-width="1.08"/>
<text x="830.3" y="1191.2" font-size="17.4" text-anchor="middle" fill="#222" textLength="20" lengthAdjust="spacingAndGlyphs">19</text>
<circle cx="872.6" cy="1185" r="14.5" fill="#fff" stroke="#3d3d3d" stroke-width="1.08"/>
<text x="872.6" y="1191.2" font-size="17.4" text-anchor="middle" fill="#222" textLength="20" lengthAdjust="spacingAndGlyphs">20</text>
<circle cx="914.8" cy="1185" r="14.5" fill="#fff" stroke="#3d3d3d" stroke-width="1.08"/>
<text x="914.8" y="1191.2" font-size="17.4" text-anchor="middle" fill="#222" textLength="20" lengthAdjust="spacingAndGlyphs">21</text>
<line x1="703" y1="913" x2="724" y2="976" stroke="#3d3d3d" stroke-width="0.72" />
</g></svg>
</body></html>
